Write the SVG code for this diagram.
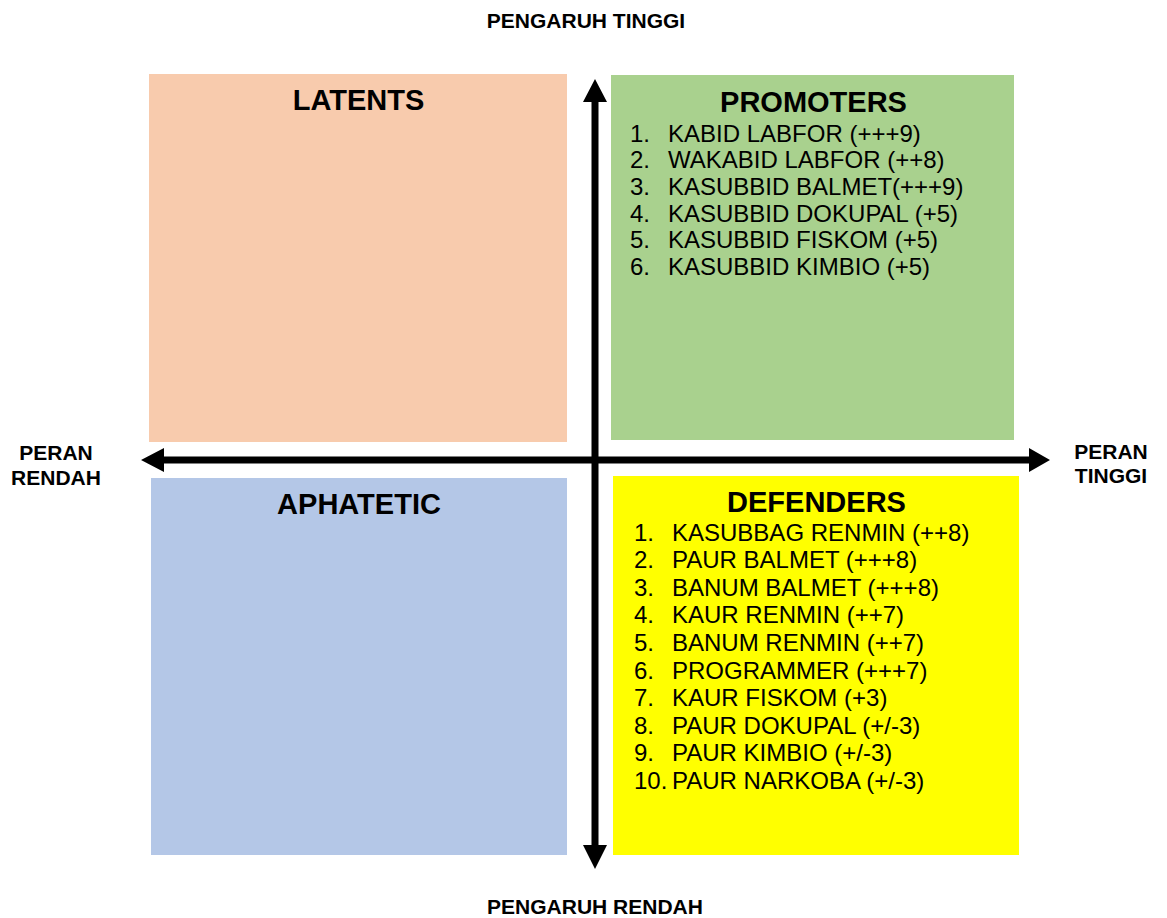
<svg xmlns="http://www.w3.org/2000/svg" width="1167" height="918" viewBox="0 0 1167 918">
<style>
.axis{font-family:"Liberation Sans",Arial,sans-serif;font-weight:bold;font-size:21px;fill:#000}
.title{font-family:"Liberation Sans",Arial,sans-serif;font-weight:bold;font-size:29px;fill:#000;text-anchor:middle}
.item{font-family:"Liberation Sans",Arial,sans-serif;font-size:24px;fill:#000}
.arrow{fill:#000}
</style>
<rect width="1167" height="918" fill="#fff"/>
<g id="latents">
<rect x="149" y="74" width="418" height="368" fill="#F8CBAD"/>
<text class="title" x="358.5" y="110">LATENTS</text>
</g>
<g id="promoters">
<rect x="611" y="75" width="403" height="365" fill="#A9D18E"/>
<text class="title" x="813.5" y="111.5">PROMOTERS</text>
<g class="item">
<text x="630" y="141.5">1.</text><text x="668" y="141.5">KABID LABFOR (+++9)</text>
<text x="630" y="168.2">2.</text><text x="668" y="168.2">WAKABID LABFOR (++8)</text>
<text x="630" y="194.9">3.</text><text x="668" y="194.9">KASUBBID BALMET(+++9)</text>
<text x="630" y="221.6">4.</text><text x="668" y="221.6">KASUBBID DOKUPAL (+5)</text>
<text x="630" y="248.3">5.</text><text x="668" y="248.3">KASUBBID FISKOM (+5)</text>
<text x="630" y="275">6.</text><text x="668" y="275">KASUBBID KIMBIO (+5)</text>
</g>
</g>
<g id="aphatetic">
<rect x="151" y="478" width="416" height="377" fill="#B4C7E7"/>
<text class="title" x="359" y="514">APHATETIC</text>
</g>
<g id="defenders">
<rect x="613" y="476" width="406" height="379" fill="#FFFF00"/>
<text class="title" x="816.5" y="512">DEFENDERS</text>
<g class="item">
<text x="634" y="540.5">1.</text><text x="672" y="540.5">KASUBBAG RENMIN (++8)</text>
<text x="634" y="568.1">2.</text><text x="672" y="568.1">PAUR BALMET (+++8)</text>
<text x="634" y="595.7">3.</text><text x="672" y="595.7">BANUM BALMET (+++8)</text>
<text x="634" y="623.3">4.</text><text x="672" y="623.3">KAUR RENMIN (++7)</text>
<text x="634" y="650.9">5.</text><text x="672" y="650.9">BANUM RENMIN (++7)</text>
<text x="634" y="678.5">6.</text><text x="672" y="678.5">PROGRAMMER (+++7)</text>
<text x="634" y="706.1">7.</text><text x="672" y="706.1">KAUR FISKOM (+3)</text>
<text x="634" y="733.7">8.</text><text x="672" y="733.7">PAUR DOKUPAL (+/-3)</text>
<text x="634" y="761.3">9.</text><text x="672" y="761.3">PAUR KIMBIO (+/-3)</text>
<text x="634" y="788.9">10.</text><text x="672" y="788.9">PAUR NARKOBA (+/-3)</text>
</g>
</g>
<g id="connectors">
<polygon class="arrow" points="595,79 607,102 598.5,102 598.5,845 607,845 595,869 583,845 591.5,845 591.5,102 583,102"/>
<polygon class="arrow" points="141,460 164,448 164,456.5 1029,456.5 1029,448 1050,460 1029,472 1029,463.5 164,463.5 164,472"/>
</g>
<g id="labels">
<text class="axis" x="586" y="28" text-anchor="middle">PENGARUH TINGGI</text>
<text class="axis" x="595" y="914" text-anchor="middle">PENGARUH RENDAH</text>
<text class="axis" x="56" y="460" text-anchor="middle">PERAN</text>
<text class="axis" x="56" y="485" text-anchor="middle">RENDAH</text>
<text class="axis" x="1111" y="459" text-anchor="middle">PERAN</text>
<text class="axis" x="1111" y="483" text-anchor="middle">TINGGI</text>
</g>
</svg>
